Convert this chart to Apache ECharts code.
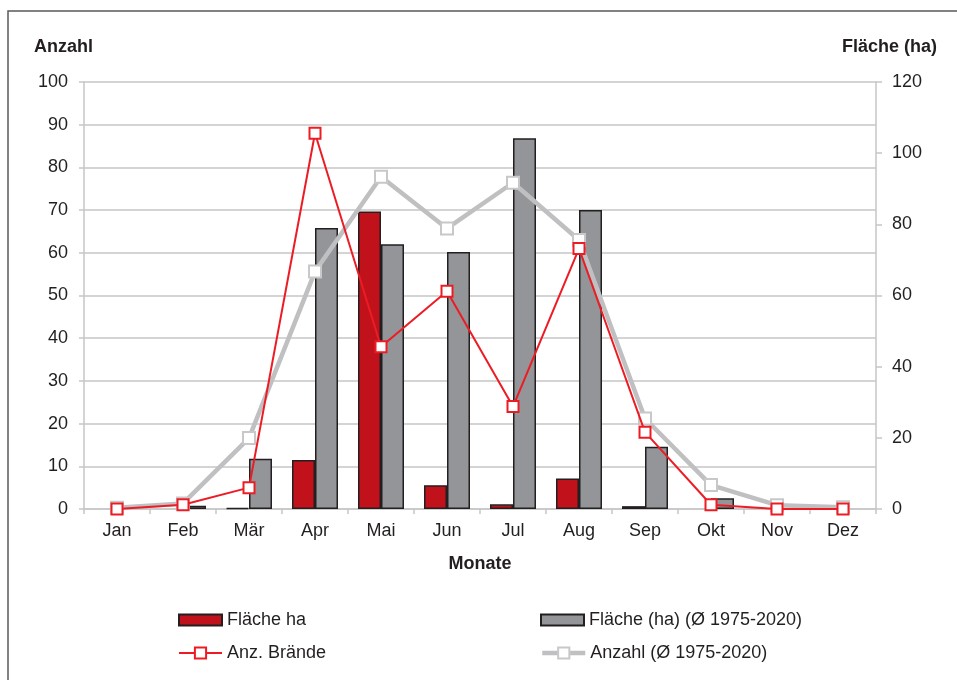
<!DOCTYPE html>
<html>
<head>
<meta charset="utf-8">
<script src="https://cdn.jsdelivr.net/npm/echarts@6/dist/echarts.min.js"></script>
<style>
html,body{margin:0;padding:0;background:#fff;}
#c{width:957px;height:680px;}
</style>
</head>
<body>
<div id="c"></div>
<script>
const months = ['Jan','Feb','Mär','Apr','Mai','Jun','Jul','Aug','Sep','Okt','Nov','Dez'];
const flaeche = [0, 0, 0.3, 13.8, 83.6, 6.7, 1.3, 8.6, 0.8, 0, 0, 0];
const flaecheAvg = [0, 0.9, 14.1, 79, 74.4, 72.2, 104.2, 84, 17.5, 3, 0, 0];
const anzahl = [0, 1, 5, 88, 38, 51, 24, 61, 18, 1, 0, 0];
const anzahlAvg = [0.3, 1.3, 16.6, 55.6, 77.8, 65.7, 76.4, 63, 21.2, 5.6, 0.9, 0.4];
const leftTicks = [0, 100, 10];
const rightTicks = [0, 120, 20];

const FONT = '"Liberation Sans", Arial, sans-serif';
const TXT = '#231f20';
const chart = echarts.init(document.getElementById('c'), null, {renderer: 'canvas'});

// zero-height bars show no outline (as in the reference)
const barData = arr => arr.map(v => v === 0 ? {value: v, itemStyle: {borderWidth: 0}} : v);

const legendBase = {
  orient: 'horizontal', itemWidth: 43, itemHeight: 11, itemGap: 0,
  textStyle: {fontFamily: FONT, fontSize: 18, color: TXT, lineHeight: 20},
  selectedMode: false
};

chart.setOption({
  animation: false,
  backgroundColor: '#fff',
  textStyle: {fontFamily: FONT},
  graphic: [
    {type: 'rect', shape: {x: 8, y: 11, width: 1000, height: 700}, style: {fill: 'none', stroke: '#595959', lineWidth: 1.5}, z: -1},
    {type: 'text', left: 34, top: 38, style: {text: 'Anzahl', font: 'bold 18px ' + FONT, fill: TXT}},
    {type: 'text', right: 20, top: 38, style: {text: 'Fläche (ha)', font: 'bold 18px ' + FONT, fill: TXT}}
  ],
  legend: [
    Object.assign({}, legendBase, {data: [{name: 'Fläche ha', icon: 'rect'}], left: 173, top: 605}),
    Object.assign({}, legendBase, {data: [{name: 'Fläche (ha) (Ø 1975-2020)', icon: 'rect'}], left: 535, top: 605}),
    Object.assign({}, legendBase, {data: ['Anz. Brände'], left: 173, top: 638, itemHeight: 14,
      lineStyle: {width: 2}}),
    Object.assign({}, legendBase, {data: ['Anzahl (Ø 1975-2020)'], left: 535, top: 638, itemHeight: 14,
      lineStyle: {width: 4.5}})
  ],
  grid: {left: 84, right: 81, top: 82, height: 427, containLabel: false},
  xAxis: {
    type: 'category', data: months, boundaryGap: true,
    name: 'Monate', nameLocation: 'middle', nameGap: 46,
    nameTextStyle: {fontFamily: FONT, fontSize: 18, fontWeight: 'bold', color: TXT},
    axisLine: {lineStyle: {color: '#c6c6c6', width: 1.5}},
    axisTick: {show: true, length: 5, inside: false, alignWithLabel: false, lineStyle: {color: '#c6c6c6', width: 1.5}},
    axisLabel: {fontFamily: FONT, fontSize: 18, color: TXT, margin: 13}
  },
  yAxis: [
    {
      type: 'value', min: leftTicks[0], max: leftTicks[1], interval: leftTicks[2], position: 'left',
      axisLine: {show: true, lineStyle: {color: '#c6c6c6', width: 1.5}},
      axisTick: {show: true, length: 5, lineStyle: {color: '#c6c6c6', width: 1.5}},
      axisLabel: {fontFamily: FONT, fontSize: 18, color: TXT, margin: 16},
      splitLine: {show: true, lineStyle: {color: '#c6c6c6', width: 1.5}}
    },
    {
      type: 'value', min: rightTicks[0], max: rightTicks[1], interval: rightTicks[2], position: 'right',
      axisLine: {show: true, lineStyle: {color: '#c6c6c6', width: 1.5}},
      axisTick: {show: true, length: 6, lineStyle: {color: '#c6c6c6', width: 1.5}},
      axisLabel: {fontFamily: FONT, fontSize: 18, color: TXT, margin: 16},
      splitLine: {show: false}
    }
  ],
  series: [
    {
      name: 'Fläche ha', type: 'bar', yAxisIndex: 1, data: barData(flaeche),
      barWidth: 23, barGap: '0%',
      itemStyle: {color: '#c1121c', borderColor: '#231f20', borderWidth: 1.5},
      z: 2
    },
    {
      name: 'Fläche (ha) (Ø 1975-2020)', type: 'bar', yAxisIndex: 1, data: barData(flaecheAvg),
      barWidth: 23, barGap: '0%',
      itemStyle: {color: '#939598', borderColor: '#231f20', borderWidth: 1.5},
      z: 2
    },
    {
      name: 'Anz. Brände', type: 'line', yAxisIndex: 0, data: anzahl,
      symbol: 'emptyRect', symbolSize: 11, showAllSymbol: true,
      lineStyle: {color: '#ed1c24', width: 2},
      itemStyle: {color: '#ed1c24', borderColor: '#ed1c24', borderWidth: 1.8},
      z: 4
    },
    {
      name: 'Anzahl (Ø 1975-2020)', type: 'line', yAxisIndex: 0, data: anzahlAvg,
      symbol: 'emptyRect', symbolSize: 12, showAllSymbol: true,
      lineStyle: {color: '#c0c0c2', width: 4.5},
      itemStyle: {color: '#c8c8ca', borderColor: '#c8c8ca', borderWidth: 2},
      z: 3
    }
  ]
});
</script>
</body>
</html>
